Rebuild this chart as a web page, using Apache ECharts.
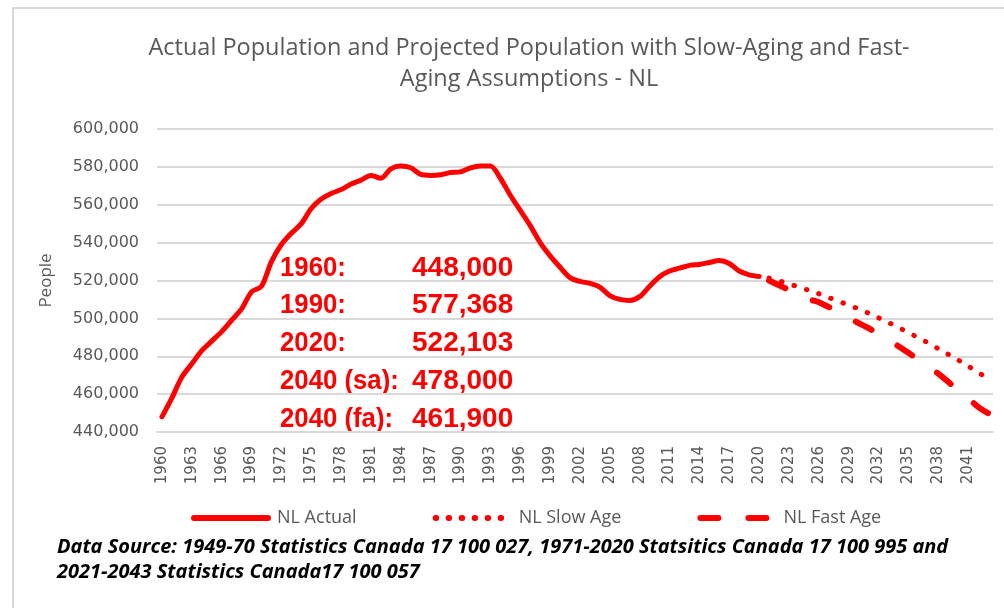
<!DOCTYPE html>
<html>
<head>
<meta charset="utf-8">
<title>NL Population</title>
<script src="https://cdn.jsdelivr.net/npm/echarts@6/dist/echarts.min.js"></script>
<style>
	html, body { margin: 0; padding: 0; background: #fff; }
	#chart { width: 1004px; height: 608px; }
</style>
</head>
<body>
<div id="chart"></div>
<script>
var C_TITLE = 'Actual Population and Projected Population with Slow-Aging and Fast-\nAging Assumptions - NL';
var C_SOURCE = [
	'Data Source: 1949-70 Statistics Canada 17 100 027, 1971-2020 Statsitics Canada 17 100 995 and',
	'2021-2043 Statistics Canada17 100 057'
];
var SERIES_NAME = ['NL Actual', 'NL Slow Age', 'NL Fast Age'];

// 年份 1960 - 2043
var years = [];
for (var y = 1960; y <= 2043; y++) years.push(String(y));

// 实际人口 1960-2020
var actual = [
	448000, 458000, 469000, 476000, 483000, 488000, 493000, 499000, 505000, 514000,
	517000, 530000, 539000, 545000, 550000, 558000, 563000, 566000, 568000, 571000,
	573000, 575500, 574000, 579000, 580500, 579500, 576000, 575500, 575800, 577000,
	577368, 579500, 580500, 580500, 574000, 565000, 557000, 549000, 540000, 533000,
	527000, 521500, 519500, 518500, 516500, 512000, 510000, 509500, 511500, 517000,
	522000, 525000, 526500, 528000, 528500, 529500, 530500, 529000, 525000, 523000,
	522103
];
// 慢老龄化预测 2021-2043
var slowAge = [
	521300, 519800, 518200, 516600, 514800, 513000, 511000, 509000, 507000, 505000,
	502700, 500300, 497800, 495200, 492500, 489800, 487000, 484000, 481000, 478000,
	474800, 471500, 468200
];
// 快老龄化预测 2021-2043
var fastAge = [
	520000, 517500, 515000, 512700, 510200, 508500, 506000, 503500, 500500, 497500,
	494800, 491800, 488500, 485300, 481800, 478300, 474800, 470800, 466500, 461900,
	457800, 453300, 450000
];
var yTicks = [440000, 460000, 480000, 500000, 520000, 540000, 560000, 580000, 600000];

var FONT = "'Open Sans', sans-serif";
var GRAY = '#595959';

function padSeries(arr, offset) {
	var out = new Array(years.length);
	for (var i = 0; i < years.length; i++) out[i] = '-';
	for (var j = 0; j < arr.length; j++) out[offset + j] = arr[j];
	return out;
}

function fmt(num) {
	return String(num).replace(/\B(?=(\d{3})+(?!\d))/g, ',');
}

function yearIdx(y) {
	return years.indexOf(String(y));
}

var projStart = yearIdx(2021);
var notes = [
	['1960:', actual[yearIdx(1960)]],
	['1990:', actual[yearIdx(1990)]],
	['2020:', actual[yearIdx(2020)]],
	['2040 (sa):', slowAge[yearIdx(2040) - projStart]],
	['2040 (fa):', fastAge[yearIdx(2040) - projStart]]
];

function buildGraphic() {
	var g = [{
		type: 'rect',
		shape: { x: 13, y: 8, width: 1100, height: 700 },
		style: { fill: 'none', stroke: '#d9d9d9', lineWidth: 2 },
		silent: true
	}];
	var redFont = "bold 28px 'Liberation Sans', sans-serif";
	for (var i = 0; i < notes.length; i++) {
		g.push({
			type: 'text', x: 280, y: 254 + i * 37.7, scaleX: 0.92,
			style: { text: notes[i][0], fill: '#ff0000', font: redFont }
		});
		g.push({
			type: 'text', left: 412, top: 254 + i * 37.7,
			style: { text: fmt(notes[i][1]), fill: '#ff0000', font: redFont }
		});
	}
	for (var k = 0; k < C_SOURCE.length; k++) {
		g.push({
			type: 'text', left: 57, top: 537 + k * 25.5,
			style: { text: C_SOURCE[k], fill: '#000', font: "italic bold 20px " + FONT }
		});
	}
	return g;
}

var echart = echarts.init(document.getElementById('chart'));
var option = {
	animation: false,
	title: {
		text: C_TITLE,
		left: 524,
		top: 28,
		textAlign: 'center',
		textStyle: {
			fontFamily: FONT,
			fontWeight: 'normal',
			fontSize: 23.5,
			lineHeight: 31,
			color: GRAY
		}
	},
	grid: {
		left: 157,
		right: 11,
		top: 129,
		bottom: 176
	},
	legend: {
		left: 186,
		top: 504,
		itemWidth: 74,
		itemHeight: 16,
		itemGap: 76,
		itemStyle: { opacity: 0 },
		lineStyle: { width: 6 },
		textStyle: {
			fontFamily: FONT,
			fontSize: 18,
			color: GRAY,
			padding: [0, 0, 0, 4]
		},
		data: SERIES_NAME
	},
	xAxis: {
		type: 'category',
		boundaryGap: true,
		data: years,
		axisTick: { show: false },
		axisLine: { lineStyle: { color: '#d9d9d9', width: 2 } },
		axisLabel: {
			interval: 2,
			rotate: 90,
			margin: 14,
			color: GRAY,
			fontFamily: 'DejaVu Sans',
			fontSize: 15
		}
	},
	yAxis: {
		type: 'value',
		min: yTicks[0],
		max: yTicks[yTicks.length - 1],
		interval: yTicks[1] - yTicks[0],
		name: 'People',
		nameLocation: 'middle',
		nameGap: 102,
		nameTextStyle: {
			fontFamily: FONT,
			fontSize: 17,
			color: GRAY
		},
		axisLine: { show: false },
		axisTick: { show: false },
		splitLine: { lineStyle: { color: '#d9d9d9', width: 2 } },
		axisLabel: {
			margin: 18,
			color: GRAY,
			fontFamily: 'DejaVu Sans',
			fontSize: 16,
			formatter: function (v) { return fmt(v); }
		}
	},
	series: [{
		name: SERIES_NAME[0],
		type: 'line',
		showSymbol: false,
		symbol: 'none',
		smooth: 0.3,
		itemStyle: { color: '#ff0000' },
		lineStyle: { color: '#ff0000', width: 5, cap: 'round', join: 'round' },
		data: padSeries(actual, 0)
	}, {
		name: SERIES_NAME[1],
		type: 'line',
		showSymbol: false,
		symbol: 'none',
		smooth: 0.3,
		itemStyle: { color: '#ff0000' },
		lineStyle: { color: '#ff0000', width: 5, cap: 'round', type: [0.5, 12.5] },
		data: padSeries(slowAge, projStart)
	}, {
		name: SERIES_NAME[2],
		type: 'line',
		showSymbol: false,
		symbol: 'none',
		smooth: 0.3,
		itemStyle: { color: '#ff0000' },
		lineStyle: { color: '#ff0000', width: 6, cap: 'round', type: [18, 30] },
		data: padSeries(fastAge, projStart)
	}],
	graphic: buildGraphic()
};
echart.setOption(option, true);
</script>
</body>
</html>
